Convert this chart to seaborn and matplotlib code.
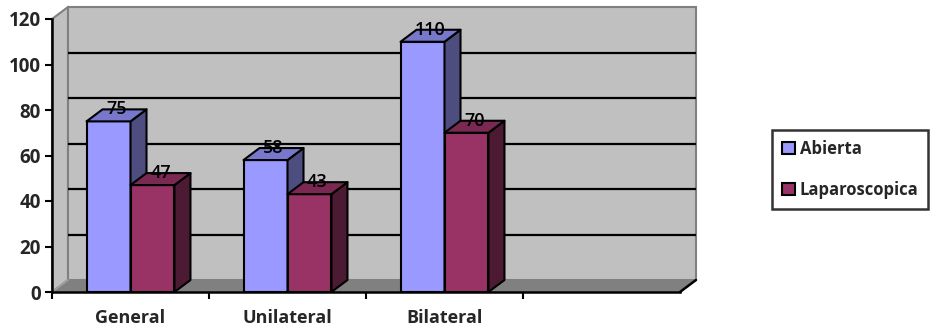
import matplotlib
matplotlib.use("Agg")
import matplotlib.pyplot as plt
from matplotlib.patches import Polygon, Patch
import numpy as np
import pandas as pd
import seaborn as sns

# Data
categories = ["General", "Unilateral", "Bilateral"]
abierta = [75, 58, 110]
laparoscopica = [47, 43, 70]
series_names = ["Abierta", "Laparoscopica"]
y_ticks = [0, 20, 40, 60, 80, 100, 120]

front_colors = ["#9999FF", "#993366"]
top_colors = ["#7777CC", "#7A2952"]
side_colors = ["#4D4D80", "#4D1A33"]

df = pd.DataFrame({
    "Tipo": categories * 2,
    "Valor": abierta + laparoscopica,
    "Serie": [series_names[0]] * len(categories) + [series_names[1]] * len(categories),
})

sns.set_theme(style="white")
plt.rcParams["font.family"] = ["Open Sans", "DejaVu Sans"]

W, H = 938, 331
fig = plt.figure(figsize=(W / 100, H / 100), dpi=100)
ax = fig.add_axes([52 / W, 39 / H, 628 / W, 273 / H])
ax.set_facecolor("none")

sns.barplot(data=df, x="Tipo", y="Valor", hue="Serie", order=categories,
            hue_order=series_names, palette=front_colors, saturation=1,
            width=0.56, edgecolor="black", linewidth=1.5, legend=False,
            errorbar=None, ax=ax)

ax.set_xlim(-0.5, 3.5)
ax.set_ylim(0, 120)

# depth of the 3D box, expressed in data units
DEPTH_PX = np.array([16.0, 12.0])
p0 = ax.transData.transform((0, 0))
ddx, ddy = ax.transData.inverted().transform(p0 + DEPTH_PX)

x0, x1 = -0.5, 3.5
y_top = 120
wall_kw = dict(clip_on=False, linewidth=1.5)

# left wall
ax.add_patch(Polygon([(x0, 0), (x0 + ddx, ddy), (x0 + ddx, y_top + ddy), (x0, y_top)],
                     facecolor="#C0C0C0", edgecolor="#808080", zorder=0.5, **wall_kw))
# back wall
ax.add_patch(Polygon([(x0 + ddx, ddy), (x1 + ddx, ddy), (x1 + ddx, y_top + ddy), (x0 + ddx, y_top + ddy)],
                     facecolor="#C0C0C0", edgecolor="#808080", zorder=0.5, **wall_kw))
# floor
ax.add_patch(Polygon([(x0, 0), (x1, 0), (x1 + ddx, ddy), (x0 + ddx, ddy)],
                     facecolor="#808080", edgecolor="none", zorder=0.6, clip_on=False))
ax.plot([x0, x0 + ddx], [0, ddy], color="#A0A0A0", lw=1.2, zorder=0.7, clip_on=False)
ax.plot([x1, x1 + ddx], [0, ddy], color="black", lw=1.8, zorder=0.7, clip_on=False)

# gridlines on the back wall
for v in y_ticks[1:-1]:
    ax.plot([x0 + ddx, x1 + ddx], [v + ddy, v + ddy], color="black", lw=1.6,
            zorder=0.8, clip_on=False, solid_capstyle="butt")

# 3D faces of the bars
for si, cont in enumerate(ax.containers):
    z = 3 + si
    for bar in cont:
        bar.set_zorder(z)
        bx = bar.get_x()
        bw = bar.get_width()
        bh = bar.get_height()
        top = Polygon([(bx, bh), (bx + bw, bh), (bx + bw + ddx, bh + ddy), (bx + ddx, bh + ddy)],
                      facecolor=top_colors[si], edgecolor="black", linewidth=1.5,
                      zorder=z, clip_on=False, joinstyle="round")
        side = Polygon([(bx + bw, 0), (bx + bw + ddx, ddy), (bx + bw + ddx, bh + ddy), (bx + bw, bh)],
                       facecolor=side_colors[si], edgecolor="black", linewidth=1.5,
                       zorder=z, clip_on=False, joinstyle="round")
        ax.add_patch(side)
        ax.add_patch(top)
        ax.annotate(f"{bh:g}", (bx + bw / 2, bh), xytext=(8, 12), textcoords="offset pixels",
                    ha="center", va="center", fontsize=13, fontweight=600, color="black",
                    zorder=10, annotation_clip=False)

# axes styling
for s in ["top", "right"]:
    ax.spines[s].set_visible(False)
for s in ["left", "bottom"]:
    ax.spines[s].set_color("black")
    ax.spines[s].set_linewidth(1.8)
    ax.spines[s].set_zorder(5)

ax.set_yticks(y_ticks)
ax.set_yticklabels([str(t) for t in y_ticks], fontsize=13.5, fontweight="bold")
ax.tick_params(axis="y", direction="out", length=5, width=1.5, color="black", pad=3, left=True)

ax.set_xticks(range(len(categories)))
ax.set_xticklabels(categories, fontsize=13, fontweight="bold")
ax.tick_params(axis="x", which="major", length=0, pad=12)
ax.set_xticks([-0.5, 0.5, 1.5, 2.5], minor=True)
ax.tick_params(axis="x", which="minor", direction="out", length=5, width=1.5, color="black", bottom=True)
ax.set_xlabel("")
ax.set_ylabel("")
ax.grid(False)

handles = [Patch(facecolor=c, edgecolor="black", linewidth=1.5) for c in front_colors]
leg = fig.legend(handles, series_names, loc="upper left",
                 bbox_to_anchor=(772 / W, 1 - 130 / H), borderaxespad=0,
                 fancybox=False, frameon=True, prop={"weight": "bold", "size": 12},
                 handlelength=0.75, handleheight=0.75, handletextpad=0.3,
                 labelspacing=1.35, borderpad=0.6)
leg.get_frame().set_edgecolor("black")
leg.get_frame().set_linewidth(1.8)

fig.savefig("out.png", dpi=100, facecolor="white")
